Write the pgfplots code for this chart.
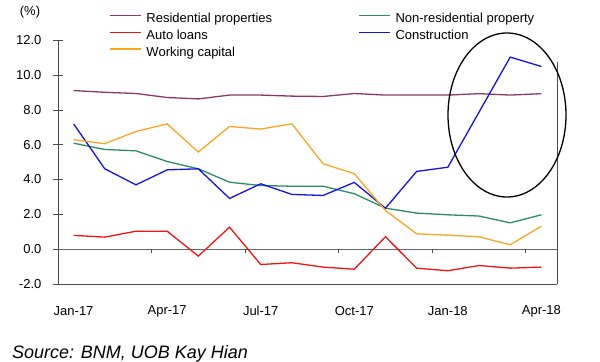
\documentclass[border=0pt]{standalone}
\usepackage{pgfplots}
\pgfplotsset{compat=1.18}
\usepackage{fontspec}
\setmainfont{Liberation Sans}
\definecolor{cres}{RGB}{140,58,98}
\definecolor{cnon}{RGB}{44,140,100}
\definecolor{cauto}{RGB}{240,20,20}
\definecolor{ccon}{RGB}{20,20,225}
\definecolor{cwc}{RGB}{250,165,35}
\begin{document}
\begin{tikzpicture}[x=1bp,y=1bp]
\begin{axis}[
  at={(0bp,0bp)}, anchor=south west,
  scale only axis, width=499bp, height=244bp,
  xmin=-0.5, xmax=15.5, ymin=-2, ymax=12,
  axis x line*=bottom, axis y line*=left,
  axis line style={-, draw=black!70},
  xtick={0,3,6,9,12,15},
  xticklabels={Jan-17,Apr-17,Jul-17,Oct-17,Jan-18,Apr-18},
  x tick style={draw=none},
  xticklabel style={anchor=center, yshift=-22bp},
  ytick={-2,0,2,4,6,8,10,12},
  y tick style={draw=black!70},
  tick align=center, major tick length=10bp,
  yticklabel style={/pgf/number format/fixed, /pgf/number format/fixed zerofill, /pgf/number format/precision=1, xshift=-8bp},
  /pgf/number format/assume math mode=true,
  tick label style={font=\fontsize{13bp}{15bp}\selectfont},
  legend columns=2,
  legend style={draw=none, fill=none, at={(axis description cs:0,1)}, anchor=north west,
    xshift=51bp, yshift=27bp, font=\fontsize{13bp}{15bp}\selectfont,
    row sep=4.2bp, inner sep=0pt,
    nodes={inner sep=0pt, text height=9.5bp, text depth=3bp},
    /tikz/every even column/.append style={column sep=86bp},
    /tikz/every odd column/.append style={column sep=5bp}},
  legend cell align=left,
  legend image code/.code={\draw[#1] (0bp,3.8bp) -- (31bp,3.8bp);},
  every axis plot/.append style={line width=1.3bp, mark=none},
]
\draw[black!60, line width=0.8bp] (axis cs:-0.5,0) -- (axis cs:15.5,0);
\pgfplotsinvokeforeach{2.5,5.5,8.5,11.5,14.5}{\draw[black!70, line width=0.8bp] (axis cs:#1,0) -- ++(0bp,-4bp);}
\addplot[cres] coordinates {(0,9.1)(1,9.0)(2,8.93)(3,8.7)(4,8.62)(5,8.84)(6,8.84)(7,8.78)(8,8.76)(9,8.93)(10,8.84)(11,8.84)(12,8.84)(13,8.92)(14,8.84)(15,8.92)};
\addlegendentry{Residential properties}
\addplot[cnon] coordinates {(0,6.08)(1,5.72)(2,5.64)(3,5.03)(4,4.61)(5,3.84)(6,3.65)(7,3.61)(8,3.61)(9,3.18)(10,2.35)(11,2.07)(12,1.97)(13,1.9)(14,1.51)(15,1.97)};
\addlegendentry{Non-residential property}
\addplot[cauto] coordinates {(0,0.79)(1,0.69)(2,1.03)(3,1.03)(4,-0.40)(5,1.26)(6,-0.88)(7,-0.78)(8,-1.03)(9,-1.15)(10,0.71)(11,-1.09)(12,-1.24)(13,-0.94)(14,-1.09)(15,-1.03)};
\addlegendentry{Auto loans}
\addplot[ccon] coordinates {(0,7.19)(1,4.61)(2,3.69)(3,4.55)(4,4.61)(5,2.91)(6,3.75)(7,3.14)(8,3.08)(9,3.83)(10,2.35)(11,4.46)(12,4.70)(13,7.86)(14,11.02)(15,10.48)};
\addlegendentry{Construction}
\addplot[cwc] coordinates {(0,6.28)(1,6.05)(2,6.75)(3,7.19)(4,5.57)(5,7.04)(6,6.89)(7,7.19)(8,4.90)(9,4.33)(10,2.22)(11,0.88)(12,0.80)(13,0.71)(14,0.25)(15,1.32)};
\addlegendentry{Working capital}
\end{axis}
\draw[black!70, line width=0.8bp] (499bp,0bp) -- (499bp,222bp);
\draw[black, line width=1.3bp] (449bp,169bp) ellipse [x radius=59bp, y radius=82bp];
\node[font=\fontsize{13bp}{15bp}\selectfont] at (-28bp,272bp) {(\%)};
\node[anchor=base west, inner sep=0pt, font=\fontsize{18bp}{20bp}\selectfont\itshape] at (-46bp,-74bp) {Source: BNM, UOB Kay Hian};
\path[use as bounding box] (-58bp,-76bp) rectangle (542bp,284bp);
\end{tikzpicture}
\end{document}
